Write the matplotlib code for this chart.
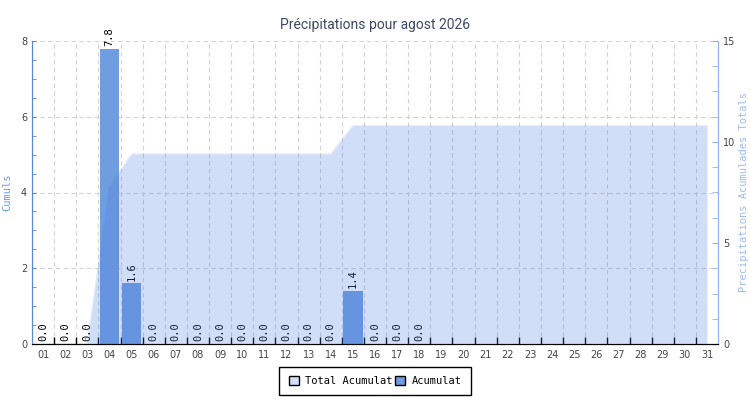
import matplotlib
matplotlib.use("Agg")
import matplotlib.pyplot as plt
from matplotlib.patches import Patch
from matplotlib.ticker import MultipleLocator, FixedLocator

# data
days = ["%02d" % d for d in range(1, 32)]
daily = [0.0, 0.0, 0.0, 7.8, 1.6, 0.0, 0.0, 0.0, 0.0, 0.0, 0.0, 0.0, 0.0, 0.0,
         1.4, 0.0, 0.0, 0.0]
total = [0.0, 0.0, 0.0, 7.8, 9.4, 9.4, 9.4, 9.4, 9.4, 9.4, 9.4, 9.4, 9.4, 9.4,
         10.8, 10.8, 10.8, 10.8, 10.8, 10.8, 10.8, 10.8, 10.8, 10.8, 10.8, 10.8,
         10.8, 10.8, 10.8, 10.8, 10.8]

title = "Précipitations pour agost 2026"
bar_color = "#709ce0"
area_color = "#4a7fe0"
mono = "DejaVu Sans Mono"

fig = plt.figure(figsize=(7.5, 4), dpi=100)
ax = fig.add_axes([0.0427, 0.14, 0.9147, 0.7575])
ax2 = ax.twinx()

x = list(range(len(days)))
xd = list(range(len(daily)))

ax.bar(xd, daily, width=0.88, color=bar_color, zorder=2)
for i, v in zip(xd, daily):
    ax.annotate("%.1f" % v, (i, v), xytext=(0, 2), textcoords="offset points",
                rotation=90, ha="center", va="bottom", fontsize=7.5,
                family=mono, color="black", zorder=3)

ax2.fill_between(x, total, 0, color=area_color, alpha=0.25, linewidth=0)
ax2.plot(x, total, color=area_color, alpha=0.15, linewidth=1)

ax.set_xlim(-0.5, len(days) - 0.5)
ax.set_ylim(0, 8)
ax2.set_ylim(0, 15)

# x axis: ticks at boundaries, labels at centres
ax.xaxis.set_major_locator(FixedLocator([i + 0.5 for i in range(len(days) - 1)]))
ax.xaxis.set_minor_locator(FixedLocator(x))
ax.set_xticklabels([], minor=False)
ax.set_xticklabels(days, minor=True)
ax.tick_params(axis="x", which="major", direction="in", length=5, color="black", width=1)
ax.tick_params(axis="x", which="minor", length=0, labelsize=7, labelcolor="#444444", pad=4)

ax.yaxis.set_major_locator(MultipleLocator(2))
ax.yaxis.set_minor_locator(MultipleLocator(0.5))
ax.tick_params(axis="y", which="both", direction="in", length=3, color="#5b87d6",
               labelsize=7, labelcolor="#444444")
ax2.yaxis.set_major_locator(MultipleLocator(5))
ax2.yaxis.set_minor_locator(MultipleLocator(1.25))
ax2.tick_params(axis="y", which="both", direction="in", length=4, color="#8fb4f0",
                labelsize=7, labelcolor="#444444")

ax.grid(True, which="major", linestyle=(0, (4, 3)), color="#d3d3d3", linewidth=0.8)
ax.set_axisbelow(True)

for a in (ax, ax2):
    a.spines["top"].set_visible(False)
    a.spines["bottom"].set_color("black")
    a.spines["left"].set_color("#5b87d6")
    a.spines["right"].set_color("#8fb4f0")

ax.set_ylabel("Cumuls", family=mono, fontsize=7.5, color="#6a9ae0", labelpad=6)
ax2.set_ylabel("Precipitations Acumulades Totals", family=mono, fontsize=7.5,
               color="#9bbcf0", labelpad=3)
ax.set_title(title, fontsize=10, color="#3d4a63", pad=9, family="Roboto")

handles = [Patch(facecolor="#d2e0f8", edgecolor="black", label="Total Acumulat"),
           Patch(facecolor=bar_color, edgecolor="black", label="Acumulat")]
leg = fig.legend(handles=handles, loc="center", bbox_to_anchor=(0.5, 0.0475), ncol=2,
                 prop={"family": mono, "size": 7.5}, fancybox=False, edgecolor="black",
                 framealpha=1, handlelength=1, handleheight=1, handletextpad=0.6,
                 columnspacing=0.2, borderpad=0.9)
leg.get_frame().set_linewidth(1)

fig.savefig("out.png", dpi=100)
